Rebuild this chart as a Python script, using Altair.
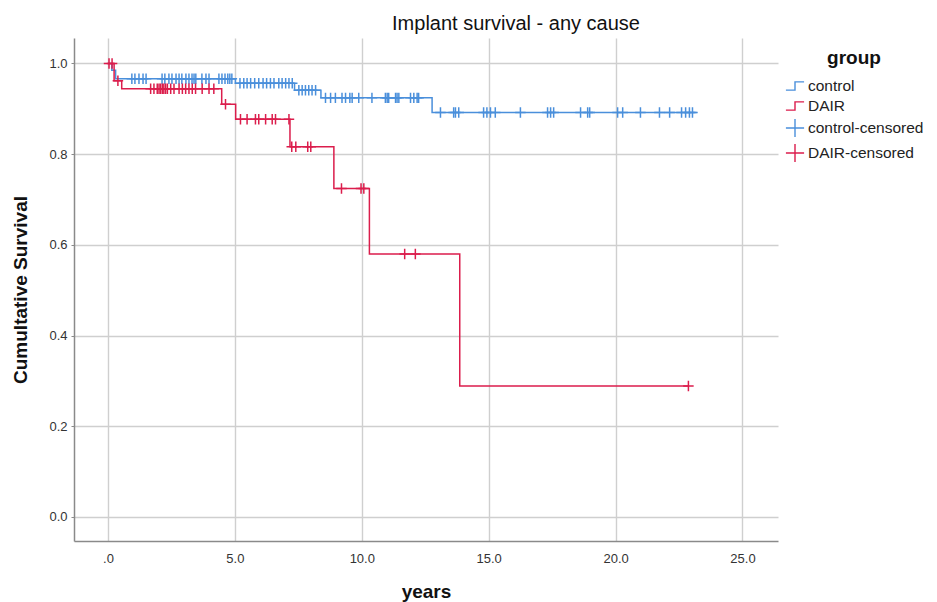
import altair as alt
import pandas as pd

# ---- step curves (time in years, cumulative survival) ----
control_t = [0.0, 0.15, 0.30, 5.02, 7.35, 8.39, 12.77, 23.19]
control_s = [1.000, 0.985, 0.966, 0.956, 0.941, 0.924, 0.892, 0.892]

dair_t = [0.0, 0.24, 0.54, 4.48, 5.03, 7.17, 8.90, 10.30, 13.86, 22.87]
dair_s = [1.000, 0.962, 0.944, 0.910, 0.877, 0.816, 0.724, 0.580, 0.289, 0.289]

# ---- censored observations ----
control_cens_t = [0.94, 1.06, 1.22, 1.38, 1.50, 2.13, 2.24, 2.40, 2.52, 2.68, 2.80, 2.91,
                  3.07, 3.19, 3.31, 3.39, 3.46, 3.70, 3.86, 3.98, 4.37, 4.49, 4.61, 4.72,
                  4.80, 4.88,
                  5.20, 5.35, 5.48, 5.62, 5.78, 5.94, 6.11, 6.25, 6.40, 6.54, 6.73, 6.86,
                  7.00, 7.13, 7.26,
                  7.52, 7.65, 7.78, 7.91, 8.04, 8.18,
                  8.57, 8.77, 8.96, 9.22, 9.36, 9.53, 9.62, 9.88, 10.40, 10.93, 11.00,
                  11.06, 11.33, 11.39, 11.46, 11.92, 12.05, 12.18, 12.24,
                  13.10, 13.62, 13.69, 13.82, 14.80, 14.93, 15.07, 15.26, 16.25, 17.32,
                  17.44, 17.56, 18.62, 18.90, 18.98, 20.08, 20.28, 20.98, 21.73, 22.13,
                  22.60, 22.76, 22.91, 23.03]
control_cens_s = ([0.966] * 26 + [0.956] * 15 + [0.941] * 6 + [0.924] * 19 + [0.892] * 24)

dair_cens_t = [0.04, 0.16, 0.39,
               1.68, 1.81, 1.94, 2.01, 2.07, 2.14, 2.20, 2.27, 2.34, 2.47, 2.60, 2.80,
               2.93, 3.06, 3.19, 3.32, 3.45, 3.71, 3.98, 4.17,
               4.63,
               5.22, 5.48, 5.81, 5.94, 6.21, 6.47, 6.60, 7.13,
               7.24, 7.40, 7.87, 7.99,
               9.20, 9.97, 10.08,
               11.69, 12.11,
               22.87]
dair_cens_s = ([1.0, 1.0, 0.962] + [0.944] * 20 + [0.910] + [0.877] * 8 + [0.816] * 4
               + [0.724] * 3 + [0.580] * 2 + [0.289])

groups = ["control", "DAIR", "control-censored", "DAIR-censored"]
colors = ["#4a8fdb", "#db1d4c", "#4a8fdb", "#db1d4c"]
STEP = "M-1,0.45L0,0.45L0,-0.45L1,-0.45"
CROSS = "M-1,0L1,0M0,-1L0,1"

lines = pd.DataFrame({
    "years": control_t + dair_t,
    "surv": control_s + dair_s,
    "group": ["control"] * len(control_t) + ["DAIR"] * len(dair_t),
})
cens = pd.DataFrame({
    "years": control_cens_t + dair_cens_t,
    "surv": control_cens_s + dair_cens_s,
    "group": ["control-censored"] * len(control_cens_t) + ["DAIR-censored"] * len(dair_cens_t),
})

FONT = "Liberation Sans"

x_enc = alt.X("years:Q", title="years",
              scale=alt.Scale(domain=[-1.34, 26.4], nice=False, zero=False),
              axis=alt.Axis(values=[0, 5, 10, 15, 20, 25],
                            labelExpr="datum.value == 0 ? '.0' : format(datum.value, '.1f')",
                            tickSize=0, labelPadding=11, titlePadding=17))
y_enc = alt.Y("surv:Q", title="Cumultative Survival",
              scale=alt.Scale(domain=[-0.053, 1.056], nice=False, zero=False),
              axis=alt.Axis(values=[0, 0.2, 0.4, 0.6, 0.8, 1.0], format=".1f",
                            tickSize=3, labelPadding=4, titlePadding=18))

legend = alt.Legend(title="group", orient="none", legendX=711, legendY=11,
                    titleFontSize=19, titleFont=FONT, titleFontWeight="bold",
                    titleColor="#111", titleAnchor="middle", titlePadding=8,
                    labelFont=FONT, labelFontSize=15.5, labelColor="#222",
                    symbolSize=330, symbolStrokeWidth=1.4, symbolOpacity=1,
                    rowPadding=1, labelOffset=3, values=groups)

color_scale = alt.Scale(domain=groups, range=colors)
shape_scale = alt.Scale(domain=groups, range=[STEP, STEP, CROSS, CROSS])

line_layer = alt.Chart(lines).mark_line(interpolate="step-after", strokeWidth=1.5).encode(
    x=x_enc, y=y_enc,
    stroke=alt.Stroke("group:N", scale=alt.Scale(domain=["control", "DAIR"],
                                                 range=["#4a8fdb", "#db1d4c"]), legend=None),
)

point_layer = alt.Chart(cens).mark_point(filled=False, size=110, strokeWidth=1.5, opacity=1).encode(
    x=x_enc, y=y_enc,
    color=alt.Color("group:N", scale=color_scale, legend=legend),
    shape=alt.Shape("group:N", scale=shape_scale, legend=legend),
)

chart = alt.layer(line_layer, point_layer).properties(
    width=704, height=503,
    title=alt.Title("Implant survival - any cause", font=FONT, fontSize=20,
                    fontWeight="normal", color="#111", anchor="middle", dx=90, offset=4),
    padding={"left": 3, "top": 6, "right": 5, "bottom": 5},
).configure_view(stroke=None).configure_axis(
    labelFont=FONT, labelFontSize=13, labelColor="#333",
    titleFont=FONT, titleFontSize=19, titleFontWeight="bold", titleColor="#111",
    gridColor="#cfcfcf", gridWidth=1.4, domainColor="#8a8a8a", domainWidth=1.5,
    tickColor="#8a8a8a",
)

chart.save("out.html", embed_options={"renderer": "svg", "actions": False})
